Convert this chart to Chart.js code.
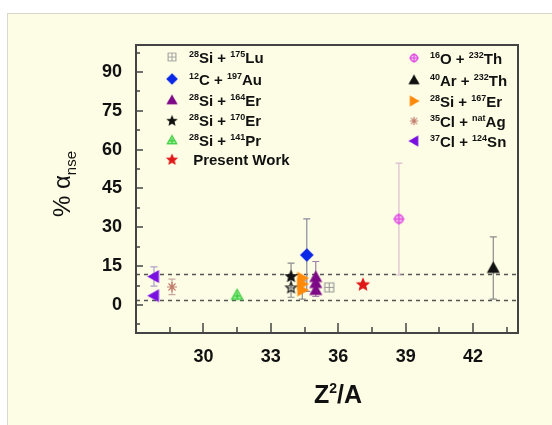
<!DOCTYPE html>
<html>
<head>
<meta charset="utf-8">
<script src="https://cdn.jsdelivr.net/npm/chart.js@4/dist/chart.umd.min.js"></script>
<style>
  html, body { margin: 0; padding: 0; background: #fff; }
  #wrap { width: 552px; height: 425px; }
</style>
</head>
<body>
<div id="wrap"><canvas id="chart" width="552" height="425"></canvas></div>
<script>
// Axis ticks and reference lines
const xTicks = [30, 33, 36, 39, 42];
const yTicks = [0, 15, 30, 45, 60, 75, 90];
const refLines = [12, 2];

// Series: Z^2/A, % alpha_nse, error
const luX = [35.6], luY = [6.8], luErr = [0];
const auX = [34.6], auY = [19.3], auErr = [14];
const er164X = [35.0, 35.0, 35.0], er164Y = [10.8, 8.5, 5.8], er164Err = [6, 0, 2.5];
const er170X = [33.9, 33.9], er170Y = [11.4, 7.0], er170Err = [4.8, 4];
const prX = [31.5], prY = [3.9], prErr = [0];
const presX = [37.1], presY = [8.2], presErr = [0];
const thOX = [38.7], thOY = [33.2], thOErr = [21.6];
const thArX = [42.9], thArY = [14.3], thArErr = [12];
const er167X = [34.4, 34.4, 34.4], er167Y = [10.4, 8.1, 5.8], er167Err = [0, 0, 3.5];
const agX = [28.6], agY = [7.0], agErr = [3];
const snX = [27.8, 27.8], snY = [11.0, 3.6], snErr = [3.7, 0];

const CREAM = '#fdfde6';

// Build a small canvas used as a point style
function marker(type, color, size, fill) {
    const s = size + 4;
    const c = document.createElement('canvas');
    c.width = s; c.height = s;
    const g = c.getContext('2d');
    const m = s / 2, r = size / 2;
    g.strokeStyle = color;
    g.fillStyle = fill || color;
    g.lineWidth = 1.2;
    g.beginPath();
    if (type === 'triUp') {
        g.moveTo(m, m - r); g.lineTo(m + r, m + r * 0.8); g.lineTo(m - r, m + r * 0.8); g.closePath();
        g.fill(); g.stroke();
    } else if (type === 'triRight') {
        g.moveTo(m + r, m); g.lineTo(m - r * 0.8, m - r); g.lineTo(m - r * 0.8, m + r); g.closePath();
        g.fill(); g.stroke();
    } else if (type === 'triLeft') {
        g.moveTo(m - r, m); g.lineTo(m + r * 0.8, m - r); g.lineTo(m + r * 0.8, m + r); g.closePath();
        g.fill(); g.stroke();
    } else if (type === 'diamond') {
        g.moveTo(m, m - r); g.lineTo(m + r, m); g.lineTo(m, m + r); g.lineTo(m - r, m); g.closePath();
        g.fill(); g.stroke();
    } else if (type === 'star' || type === 'starHollow') {
        for (let i = 0; i < 10; i++) {
            const a = -Math.PI / 2 + i * Math.PI / 5;
            const rr = i % 2 === 0 ? r : r * 0.45;
            const px = m + rr * Math.cos(a), py = m + 1 + rr * Math.sin(a);
            if (i === 0) g.moveTo(px, py); else g.lineTo(px, py);
        }
        g.closePath();
        if (type === 'star') g.fill();
        g.stroke();
    } else if (type === 'squareCross') {
        g.rect(m - r, m - r, size, size);
        g.fill(); g.stroke();
        g.beginPath();
        g.moveTo(m - r, m); g.lineTo(m + r, m);
        g.moveTo(m, m - r); g.lineTo(m, m + r);
        g.stroke();
    } else if (type === 'circleCross') {
        g.lineWidth = 1.6;
        g.arc(m, m, r * 0.75, 0, Math.PI * 2);
        g.fill(); g.stroke();
        g.beginPath();
        g.moveTo(m - r, m); g.lineTo(m + r, m);
        g.moveTo(m, m - r); g.lineTo(m, m + r);
        g.stroke();
    } else if (type === 'triCross') {
        g.moveTo(m, m - r); g.lineTo(m + r, m + r * 0.8); g.lineTo(m - r, m + r * 0.8); g.closePath();
        g.fill(); g.stroke();
        g.beginPath();
        g.moveTo(m - r * 0.5, m + r * 0.2); g.lineTo(m + r * 0.5, m + r * 0.2);
        g.moveTo(m, m - r * 0.4); g.lineTo(m, m + r * 0.8);
        g.stroke();
    } else if (type === 'asterisk') {
        for (let i = 0; i < 4; i++) {
            const a = i * Math.PI / 4;
            g.moveTo(m - r * Math.cos(a), m - r * Math.sin(a));
            g.lineTo(m + r * Math.cos(a), m + r * Math.sin(a));
        }
        g.stroke();
    }
    return c;
}

const mk = {
    lu: marker('squareCross', '#9a9a9a', 9, CREAM),
    au: marker('diamond', '#0a28e6', 12),
    er164: marker('triUp', '#7d0a86', 11),
    er170: marker('star', '#111111', 11),
    er170h: marker('starHollow', '#111111', 11, CREAM),
    pr: marker('triCross', '#2ec82e', 11, '#9ef09e'),
    pres: marker('star', '#e01818', 12),
    thO: marker('circleCross', '#e04ee0', 11, '#f6d0f6'),
    thAr: marker('triUp', '#111111', 11),
    er167: marker('triRight', '#ff8a0a', 11),
    ag: marker('asterisk', '#c07a6a', 10),
    sn: marker('triLeft', '#7a10e0', 11)
};

function pts(xs, ys) {
    return xs.map((x, i) => ({ x: x, y: ys[i] }));
}

const datasets = [
    { label: 'Lu', data: pts(luX, luY), err: luErr, pointStyle: mk.lu },
    { label: 'Au', data: pts(auX, auY), err: auErr, pointStyle: mk.au, errColor: '#8a8aa0' },
    { label: 'Er164', data: pts(er164X, er164Y), err: er164Err, pointStyle: mk.er164, errColor: '#a080a8' },
    { label: 'Er170', data: pts(er170X, er170Y), err: er170Err, pointStyle: [mk.er170, mk.er170h] },
    { label: 'Pr', data: pts(prX, prY), err: prErr, pointStyle: mk.pr },
    { label: 'Present', data: pts(presX, presY), err: presErr, pointStyle: mk.pres },
    { label: 'ThO', data: pts(thOX, thOY), err: thOErr, pointStyle: mk.thO, errColor: '#dcbcd0' },
    { label: 'ThAr', data: pts(thArX, thArY), err: thArErr, pointStyle: mk.thAr },
    { label: 'Er167', data: pts(er167X, er167Y), err: er167Err, pointStyle: mk.er167 },
    { label: 'Ag', data: pts(agX, agY), err: agErr, pointStyle: mk.ag, errColor: '#c8a8a0' },
    { label: 'Sn', data: pts(snX, snY), err: snErr, pointStyle: mk.sn, errColor: '#b0a0c8' }
];

// Legend entries: marker + text parts ([text, isSup])
const legendLeft = [
    [mk.lu, [['28', 1], ['Si + ', 0], ['175', 1], ['Lu', 0]]],
    [mk.au, [['12', 1], ['C + ', 0], ['197', 1], ['Au', 0]]],
    [mk.er164, [['28', 1], ['Si + ', 0], ['164', 1], ['Er', 0]]],
    [mk.er170, [['28', 1], ['Si + ', 0], ['170', 1], ['Er', 0]]],
    [mk.pr, [['28', 1], ['Si + ', 0], ['141', 1], ['Pr', 0]]],
    [mk.pres, [[' Present Work', 0]]]
];
const legendRight = [
    [mk.thO, [['16', 1], ['O + ', 0], ['232', 1], ['Th', 0]]],
    [mk.thAr, [['40', 1], ['Ar + ', 0], ['232', 1], ['Th', 0]]],
    [mk.er167, [['28', 1], ['Si + ', 0], ['167', 1], ['Er', 0]]],
    [mk.ag, [['35', 1], ['Cl + ', 0], ['nat', 1], ['Ag', 0]]],
    [mk.sn, [['37', 1], ['Cl + ', 0], ['124', 1], ['Sn', 0]]]
];

const FONT = '"Liberation Sans", Arial, sans-serif';

function drawParts(ctx, parts, x, y, size, supSize) {
    ctx.textBaseline = 'alphabetic';
    ctx.textAlign = 'left';
    parts.forEach(([t, sup]) => {
        ctx.font = 'bold ' + (sup ? supSize : size) + 'px ' + FONT;
        ctx.fillText(t, x, sup ? y - size * 0.42 : y);
        x += ctx.measureText(t).width;
    });
}

function drawIcon(ctx, img, x, y) {
    const w = img.width * 0.85, h = img.height * 0.85;
    ctx.drawImage(img, x - w / 2, y - h / 2, w, h);
}

const backgroundPlugin = {
    id: 'background',
    beforeDraw(chart) {
        const ctx = chart.ctx;
        ctx.save();
        ctx.fillStyle = '#ffffff';
        ctx.fillRect(0, 0, chart.width, chart.height);
        ctx.fillStyle = CREAM;
        ctx.fillRect(7, 13, chart.width - 7, chart.height - 13);
        ctx.strokeStyle = '#d8d8cc';
        ctx.lineWidth = 1;
        ctx.strokeRect(7.5, 13.5, chart.width, chart.height);
        ctx.restore();
    }
};

const errorPlugin = {
    id: 'errorBars',
    beforeDatasetsDraw(chart) {
        const ctx = chart.ctx;
        const xs = chart.scales.x, ys = chart.scales.y;
        const a = chart.chartArea;
        ctx.save();
        // dashed reference lines
        ctx.strokeStyle = '#555555';
        ctx.lineWidth = 1.5;
        ctx.setLineDash([4, 4]);
        refLines.forEach(v => {
            const py = Math.round(ys.getPixelForValue(v)) + 0.5;
            ctx.beginPath();
            ctx.moveTo(a.left, py);
            ctx.lineTo(a.right, py);
            ctx.stroke();
        });
        ctx.setLineDash([]);
        // error bars
        ctx.lineWidth = 1.2;
        chart.data.datasets.forEach(ds => {
            ds.data.forEach((p, i) => {
                const e = ds.err ? ds.err[i] : 0;
                if (!e) return;
                const px = xs.getPixelForValue(p.x);
                const top = ys.getPixelForValue(p.y + e);
                const bot = ys.getPixelForValue(p.y - e);
                ctx.strokeStyle = ds.errColor || '#8c8c8c';
                ctx.beginPath();
                ctx.moveTo(px, top); ctx.lineTo(px, bot);
                ctx.moveTo(px - 3.5, top); ctx.lineTo(px + 3.5, top);
                ctx.moveTo(px - 3.5, bot); ctx.lineTo(px + 3.5, bot);
                ctx.stroke();
            });
        });
        ctx.restore();
    }
};

const framePlugin = {
    id: 'frame',
    afterDraw(chart) {
        const ctx = chart.ctx;
        const a = chart.chartArea;
        const xs = chart.scales.x, ys = chart.scales.y;
        ctx.save();
        ctx.strokeStyle = '#444444';
        ctx.lineWidth = 2;
        ctx.strokeRect(a.left, a.top, a.right - a.left, a.bottom - a.top);

        // inward ticks, major and minor
        ctx.lineWidth = 1.5;
        ctx.beginPath();
        for (let v = 27; v <= 44.01; v += 1.5) {
            const px = Math.round(xs.getPixelForValue(v));
            if (px <= a.left + 1 || px >= a.right - 1) continue;
            const major = xTicks.includes(Math.round(v * 10) / 10);
            ctx.moveTo(px, a.bottom);
            ctx.lineTo(px, a.bottom - (major ? 10 : 6));
        }
        for (let v = -7.5; v <= 100; v += 7.5) {
            const py = Math.round(ys.getPixelForValue(v));
            if (py <= a.top + 1 || py >= a.bottom - 1) continue;
            const major = yTicks.includes(v);
            ctx.moveTo(a.left, py);
            ctx.lineTo(a.left + (major ? 7 : 4), py);
        }
        ctx.stroke();

        // legend
        ctx.fillStyle = '#111111';
        const rowsL = [57, 79, 100, 120, 140, 159];
        legendLeft.forEach(([img, parts], i) => {
            drawIcon(ctx, img, 172, rowsL[i]);
            drawParts(ctx, parts, 189, rowsL[i] + 6, 15, 9);
        });
        const rowsR = [58, 80, 101, 121, 141];
        legendRight.forEach(([img, parts], i) => {
            drawIcon(ctx, img, 414, rowsR[i]);
            drawParts(ctx, parts, 430, rowsR[i] + 6, 15, 9);
        });

        // axis titles
        ctx.fillStyle = '#111111';
        drawParts(ctx, [['Z', 0], ['2', 1], ['/A', 0]], 314, 403, 25, 14);

        ctx.translate(70, 184);
        ctx.rotate(-Math.PI / 2);
        ctx.textAlign = 'left';
        ctx.textBaseline = 'alphabetic';
        ctx.font = '24px ' + FONT;
        const mainW = ctx.measureText('% \u03b1').width;
        ctx.font = '15px ' + FONT;
        const subW = ctx.measureText('nse').width;
        const sx = -(mainW + subW) / 2;
        ctx.font = '24px ' + FONT;
        ctx.fillText('% \u03b1', sx, 0);
        ctx.font = '15px ' + FONT;
        ctx.fillText('nse', sx + mainW, 6);
        ctx.restore();
    }
};

Chart.defaults.font.family = FONT;

new Chart(document.getElementById('chart'), {
    type: 'scatter',
    data: { datasets: datasets },
    options: {
        responsive: false,
        animation: false,
        layout: { padding: { left: 66, top: 45, right: 34, bottom: 0 } },
        plugins: { legend: { display: false }, tooltip: { enabled: false } },
        scales: {
            x: {
                type: 'linear',
                min: 27,
                max: 44,
                afterBuildTicks: s => { s.ticks = xTicks.map(v => ({ value: v })); },
                afterFit: s => { s.height = 92; },
                grid: { display: false, drawTicks: false },
                border: { display: false },
                ticks: { padding: 13, color: '#111111', font: { size: 18, weight: 'bold' } }
            },
            y: {
                type: 'linear',
                min: -10.8,
                max: 100.4,
                afterBuildTicks: s => { s.ticks = yTicks.map(v => ({ value: v })); },
                afterFit: s => { s.width = 70; },
                grid: { display: false, drawTicks: false },
                border: { display: false },
                ticks: { padding: 14, color: '#111111', font: { size: 18, weight: 'bold' } }
            }
        }
    },
    plugins: [backgroundPlugin, errorPlugin, framePlugin]
});
</script>
</body>
</html>
